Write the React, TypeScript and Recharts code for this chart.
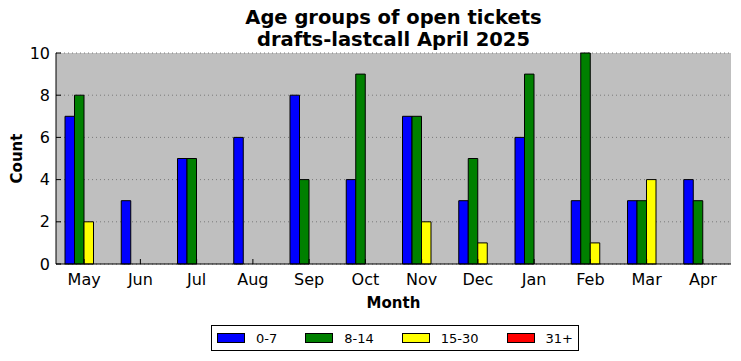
import React from 'react';
import {
  BarChart,
  Bar,
  XAxis,
  YAxis,
  CartesianGrid,
  Legend,
} from 'recharts';

const months = ['May', 'Jun', 'Jul', 'Aug', 'Sep', 'Oct', 'Nov', 'Dec', 'Jan', 'Feb', 'Mar', 'Apr'];
const age0to7 = [7, 3, 5, 6, 8, 4, 7, 3, 6, 3, 3, 4];
const age8to14 = [8, 0, 5, 0, 4, 9, 7, 5, 9, 10, 3, 3];
const age15to30 = [2, 0, 0, 0, 0, 0, 2, 1, 0, 1, 4, 0];
const age31plus = [0, 0, 0, 0, 0, 0, 0, 0, 0, 0, 0, 0];
const yTicks = [0, 2, 4, 6, 8, 10];

const series = [
  { key: 'a', name: '0-7', color: '#0000ff' },
  { key: 'b', name: '8-14', color: '#008000' },
  { key: 'c', name: '15-30', color: '#ffff00' },
  { key: 'd', name: '31+', color: '#ff0000' },
];

const data = months.map((m, i) => ({
  month: m,
  a: age0to7[i],
  b: age8to14[i],
  c: age15to30[i],
  d: age31plus[i],
}));

const FONT = '"DejaVu Sans", sans-serif';
const TICK = 5;

// matplotlib-classic style ticks: pointing into the plot, labels outside
const BottomTick = ({ x, y, payload }: any) => (
  <g>
    <line x1={x} y1={y} x2={x} y2={y - TICK} stroke="#000" />
    <text x={x} y={y + 21} textAnchor="middle" fontSize={16} fontFamily={FONT} fill="#000">
      {payload.value}
    </text>
  </g>
);

const TopTick = ({ x, y }: any) => <line x1={x} y1={y} x2={x} y2={y + TICK} stroke="#000" />;

const LeftTick = ({ x, y, payload }: any) => (
  <g>
    <line x1={x} y1={y} x2={x + TICK} y2={y} stroke="#000" />
    <text x={x - 6} y={y} dy="0.35em" textAnchor="end" fontSize={16} fontFamily={FONT} fill="#000">
      {payload.value}
    </text>
  </g>
);

const RightTick = ({ x, y }: any) => <line x1={x} y1={y} x2={x - TICK} y2={y} stroke="#000" />;

const LegendBox = () => (
  <div
    style={{
      display: 'flex',
      alignItems: 'center',
      height: 26,
      boxSizing: 'border-box',
      border: '1px solid #000',
      background: '#fff',
      padding: '0 5px',
      fontFamily: FONT,
      fontSize: 13,
    }}
  >
    {series.map((s, i) => (
      <div key={s.key} style={{ display: 'flex', alignItems: 'center', marginRight: i < series.length - 1 ? 28 : 0 }}>
        <div style={{ width: 28, height: 10, boxSizing: 'border-box', border: '1px solid #000', background: s.color }} />
        <span style={{ marginLeft: 11 }}>{s.name}</span>
      </div>
    ))}
  </div>
);

export default function App() {
  return (
    <div style={{ position: 'absolute', left: 0, top: 0, width: 741, height: 361, background: '#fff' }}>
      <div
        style={{
          position: 'absolute',
          left: 56,
          width: 675,
          top: 7,
          textAlign: 'center',
          fontFamily: FONT,
          fontWeight: 'bold',
          fontSize: 19.5,
          lineHeight: '22px',
          zIndex: 2,
        }}
      >
        Age groups of open tickets
        <br />
        drafts-lastcall April 2025
      </div>
      <BarChart
        width={741}
        height={361}
        data={data}
        margin={{ top: 53, right: 10, left: 0, bottom: 10 }}
        barSize={9.5}
        barGap={0}
      >
        <CartesianGrid
          fill="#bfbfbf"
          vertical={false}
          stroke="#7a7a7a"
          strokeDasharray="1 3"
          fillOpacity={1}
        />
        <XAxis
          dataKey="month"
          height={61}
          axisLine={{ stroke: '#000' }}
          tickLine={false}
          tickSize={0}
          tickMargin={0}
          tick={<BottomTick />}
          interval={0}
          label={{
            content: ({ viewBox }: any) => (
              <text
                x={viewBox.x + viewBox.width / 2}
                y={viewBox.y + 44}
                textAnchor="middle"
                fontSize={15}
                fontWeight="bold"
                fontFamily={FONT}
                fill="#000"
              >
                Month
              </text>
            ),
          }}
        />
        <XAxis
          dataKey="month"
          xAxisId="top"
          orientation="top"
          height={0}
          axisLine={{ stroke: '#000' }}
          tickLine={false}
          tickSize={0}
          tickMargin={0}
          tick={<TopTick />}
          interval={0}
        />
        <YAxis
          width={56}
          domain={[0, 10]}
          ticks={yTicks}
          axisLine={{ stroke: '#000' }}
          tickLine={false}
          tickSize={0}
          tickMargin={0}
          tick={<LeftTick />}
          label={{
            content: ({ viewBox }: any) => {
              const cx = 17;
              const cy = viewBox.y + viewBox.height / 2;
              return (
                <text
                  x={cx}
                  y={cy}
                  transform={`rotate(-90 ${cx} ${cy})`}
                  textAnchor="middle"
                  dominantBaseline="central"
                  fontSize={15}
                  fontWeight="bold"
                  fontFamily={FONT}
                  fill="#000"
                >
                  Count
                </text>
              );
            },
          }}
        />
        <YAxis
          yAxisId="right"
          orientation="right"
          width={0}
          domain={[0, 10]}
          ticks={yTicks}
          axisLine={{ stroke: '#000' }}
          tickLine={false}
          tickSize={0}
          tickMargin={0}
          tick={<RightTick />}
        />
        {series.map((s) => (
          <Bar
            key={s.key}
            dataKey={s.key}
            name={s.name}
            fill={s.color}
            stroke="#000"
            strokeWidth={1}
            isAnimationActive={false}
          />
        ))}
        <Legend
          verticalAlign="bottom"
          content={<LegendBox />}
          wrapperStyle={{ left: 211, width: 'auto' }}
        />
      </BarChart>
    </div>
  );
}
